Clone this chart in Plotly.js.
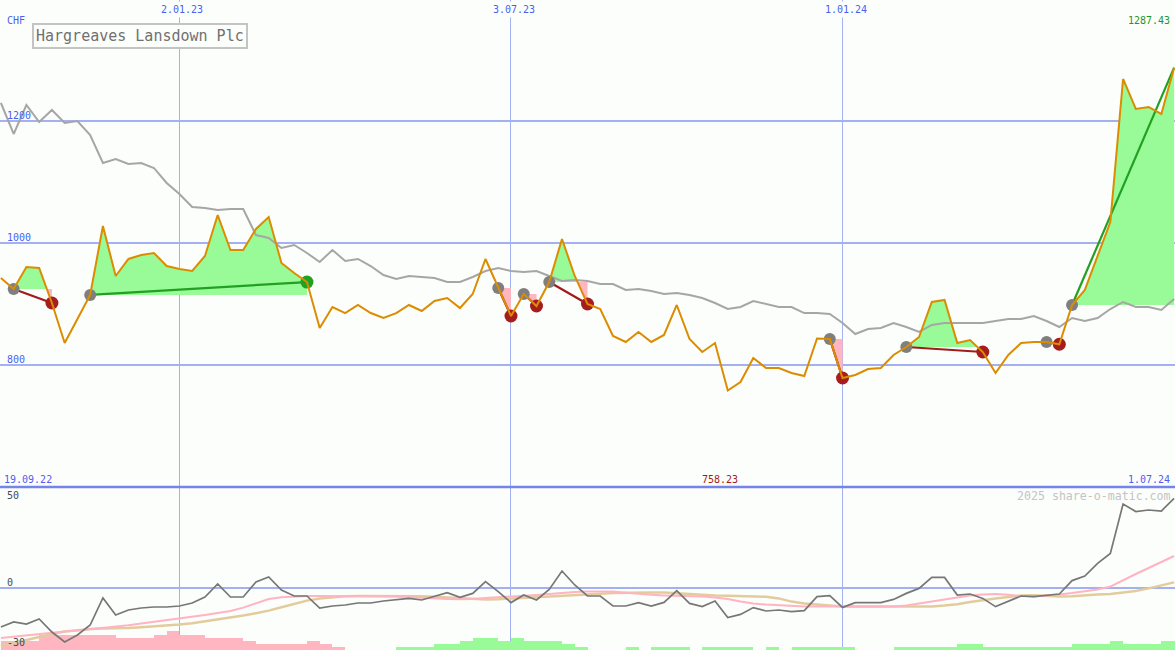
<!DOCTYPE html>
<html>
<head>
<meta charset="utf-8">
<script src="https://cdn.plot.ly/plotly-3.0.1.min.js"></script>
<style>
html,body{margin:0;padding:0;background:#fcfefb;}
#chart{width:1175px;height:650px;}
</style>
</head>
<body>
<div id="chart"></div>
<script>
// ---------- DATA ----------
const dates = [
'2022-09-26','2022-10-03','2022-10-10','2022-10-17','2022-10-24','2022-10-31','2022-11-07','2022-11-14','2022-11-21','2022-11-28',
'2022-12-05','2022-12-12','2022-12-19','2022-12-26','2023-01-02','2023-01-09','2023-01-16','2023-01-23','2023-01-30','2023-02-06',
'2023-02-13','2023-02-20','2023-02-27','2023-03-06','2023-03-13','2023-03-20','2023-03-27','2023-04-03','2023-04-10','2023-04-17',
'2023-04-24','2023-05-01','2023-05-08','2023-05-15','2023-05-22','2023-05-29','2023-06-05','2023-06-12','2023-06-19','2023-06-26',
'2023-07-03','2023-07-10','2023-07-17','2023-07-24','2023-07-31','2023-08-07','2023-08-14','2023-08-21','2023-08-28','2023-09-04',
'2023-09-11','2023-09-18','2023-09-25','2023-10-02','2023-10-09','2023-10-16','2023-10-23','2023-10-30','2023-11-06','2023-11-13',
'2023-11-20','2023-11-27','2023-12-04','2023-12-11','2023-12-18','2023-12-25','2024-01-01','2024-01-08','2024-01-15','2024-01-22',
'2024-01-29','2024-02-05','2024-02-12','2024-02-19','2024-02-26','2024-03-04','2024-03-11','2024-03-18','2024-03-25','2024-04-01',
'2024-04-08','2024-04-15','2024-04-22','2024-04-29','2024-05-06','2024-05-13','2024-05-20','2024-05-27','2024-06-03','2024-06-10',
'2024-06-17','2024-06-24','2024-07-01'];

const price = [
942.6,924.6,960.7,959,901.6,836,875.4,914.8,1027.9,945.9,
973.8,980.3,983.6,962.3,957.4,954.1,978.7,1045.9,988.5,988.5,
1023,1042.6,967.2,950.8,936,860.7,895.1,885.2,898.4,885.2,
877,885,898.4,888.5,904.9,909.8,893.4,916.4,973.8,926.2,
880.3,916.4,896.7,936,1006.6,945.9,900,891.8,847.5,837.7,
854.1,837.7,849.2,898.4,842.6,821.3,836,758.23,772.1,811.5,
795.1,795.1,786.9,782,843.5,842.6,778.7,783.6,793.4,795.1,
816.4,829.5,845.9,903.3,906.6,836,841,821.3,786.9,816.4,
836,837.7,837.7,834,898.4,923,980.3,1034.4,1268.9,1219.7,
1223,1211.5,1287.43];

const benchmark = [
1229.5,1178.7,1226.2,1198.4,1218,1196.7,1200,1177,1131.1,1137.7,
1129.5,1131.1,1123,1098.4,1080.3,1059,1057.4,1054.1,1055.7,1055.7,
1013.1,1008.2,991.8,996.7,983.6,968.9,988.5,970.5,973.8,962.3,
947.5,941,945.9,944.3,942.6,936.1,936.1,944.3,954.1,959,
954.1,952.5,954.1,945.9,937.7,939.3,937.7,932.8,932.8,923,
924.6,921.3,916.4,918,914.8,909.8,901.6,891.8,895.1,904.9,
900,895.1,895.1,885.2,885.2,883.6,868.9,850.8,859,860.7,
868.9,862.3,854.1,865.6,868.9,868.9,868.9,868.9,872.1,875.4,
875.4,880.3,872.1,862.3,877,872.1,877,891.8,903.3,895.1,
895.1,890.2,908.2];

const momentum = [
-19.5,-17,-18,-15.5,-22,-27,-23.5,-18.5,-5,-13.5,
-11,-10,-9.5,-9.5,-9,-7.5,-4.5,2,-4.5,-4.5,
3,5.5,-1,-4,-4,-10,-9,-8.5,-7.5,-7.5,
-6.5,-6,-5.2,-6,-4,-2.3,-4.7,-2.7,3.2,-1.8,
-7.3,-3.5,-6,-0.7,8.5,1.5,-4,-4,-9,-9,
-7.3,-9,-7.2,-1.3,-7.7,-9.3,-6.5,-14.8,-13.2,-9.8,
-11.5,-11,-11.8,-11.3,-4.3,-3.8,-9.7,-7.3,-7.3,-7.3,
-5.7,-2.7,-0.2,5.3,5.3,-3.5,-3,-5.2,-9.3,-6.5,
-4,-4.3,-3.5,-3,3.7,6,12.3,17.3,42,38.2,
39,38.5,44.8];

const momAvgFast = [
-25,-24.3,-23.5,-22.8,-22.2,-21.7,-21.2,-20.6,-20,-19.3,
-18.6,-17.8,-17,-16.2,-15.3,-14.5,-13.5,-12.5,-11.5,-9.8,
-7.5,-5.5,-4.6,-4.2,-4,-4,-4,-4,-4,-4,
-4,-4.2,-4.6,-5,-5.3,-5.5,-5.6,-5.5,-5,-4.7,
-4.4,-4,-3.5,-3,-2.4,-2,-1.8,-1.8,-1.8,-2.4,
-3,-3.4,-3.7,-3.9,-4,-4.3,-4.8,-5.5,-6.8,-7.8,
-8.3,-8.7,-9,-9.2,-9.3,-9.3,-9.3,-9.3,-9.3,-9.3,
-9.2,-8.8,-7.8,-6.5,-5.5,-4.6,-3.8,-3.2,-3,-3.4,
-4,-4.2,-3.8,-3.2,-2.5,-1.6,-0.7,0.7,4,7,
10,13,16];

const momAvgSlow = [
-29,-27.5,-25.8,-24.3,-23,-21.8,-21,-20.5,-20.3,-20.2,
-20,-19.6,-19.2,-18.8,-18.3,-17.6,-16.7,-15.8,-14.8,-13.8,
-12.6,-11.3,-9.6,-7.8,-6.3,-5.2,-4.5,-4.1,-4,-4,
-4,-4,-4,-4.1,-4.4,-4.8,-5.2,-5.5,-5.7,-5.6,
-5.3,-5,-4.7,-4.3,-4,-3.6,-3.3,-2.9,-2.5,-2.3,
-2.2,-2.2,-2.3,-2.7,-3.1,-3.5,-3.8,-3.9,-4.1,-4.2,
-4.4,-5.2,-6.8,-7.8,-8.3,-8.8,-9.2,-9.3,-9.3,-9.3,
-9.3,-9.3,-9.3,-9.2,-8.8,-8.1,-7,-6,-5.2,-4.5,
-3.8,-3.6,-4,-4.3,-4.1,-3.6,-3.2,-3,-2.3,-1.5,
-0.2,1.3,2.8];

const signalDown = [
3,3,3,5,5,5,5,5,5,4,
4,4,5,6.3,5,5,4,4,4,3,
2,2,2,2,3,2,1,0,0,0,
0,0,0,0,0,0,0,0,0,0,
0,0,0,0,0,0,0,0,0,0,
0,0,0,0,0,0,0,0,0,0,
0,0,0,0,0,0,0,0,0,0,
0,0,0,0,0,0,0,0,0,0,
0,0,0,0,0,0,0,0,0,0,
0,0,0];

const signalUp = [
0,0,0,0,0,0,0,0,0,0,
0,0,0,0,0,0,0,0,0,0,
0,0,0,0,0,0,0,0,0,0,
0,1,1,1,2,2,3,4,4,3,
4,3,3,3,2,1,0,0,0,1,
0,1,1,1,0,1,1,1,1,0,
1,0,1,1,1,1,1,0,0,0,
1,1,1,1,1,2,2,1,1,1,
1,1,1,1,2,2,2,3,2,2,
2,3,3];

const tradeEntry  = ['2022-10-03','2022-11-14','2023-06-26','2023-07-10','2023-07-24','2023-12-25','2024-02-05','2024-04-22','2024-05-06'];
const tradeExit   = ['2022-10-24','2023-03-13','2023-07-03','2023-07-17','2023-08-14','2024-01-01','2024-03-18','2024-04-29','2024-07-01'];
const tradeStatus = ['loss','win','loss','loss','loss','loss','loss','loss','open'];

const gridDates      = ['2023-01-02','2023-07-03','2024-01-01'];
const gridDateLabels = ['2.01.23','3.07.23','1.01.24'];
const priceTicks     = [800,1000,1200];
const momentumTicks  = [50,0,-30];
const firstDateLabel = '19.09.22';
const lastDateLabel  = '1.07.24';
const currency       = 'CHF';
const chartTitle     = 'Hargreaves Lansdown Plc';
const credit         = '2025 share-o-matic.com';

// ---------- BUILD ----------
const W = 1175, H = 650;
const BG = '#fcfefb';
const BLUE_GRID = '#a3b1f2';
const BLUE_TXT = '#4d5ef2';
const MONO = 'DejaVu Sans Mono, Liberation Mono, monospace';
const T = dates.map(d => Date.parse(d + 'T00:00:00Z'));
const idx = d => dates.indexOf(d);
const WEEK = 7 * 864e5;
const splitY = 487 / H;
const topDomain = [1 - splitY, 1];
const botDomain = [0, 1 - splitY];

function fillPolygon(e, x, above) {
  const L = price[e];
  const px = [], py = [];
  for (let i = e; i <= x; i++) {
    if (i > e) {
      const p0 = price[i - 1], p1 = price[i];
      if ((p0 - L) * (p1 - L) < 0) {
        const f = (L - p0) / (p1 - p0);
        px.push(T[i - 1] + f * (T[i] - T[i - 1]));
        py.push(L);
      }
    }
    px.push(T[i]);
    py.push(above ? Math.max(price[i], L) : Math.min(price[i], L));
  }
  px.push(T[x], T[e]);
  py.push(L, L);
  return {px, py};
}

const traces = [];
tradeEntry.forEach((d, k) => {
  const e = idx(d), x = idx(tradeExit[k]);
  [true, false].forEach(above => {
    const p = fillPolygon(e, x, above);
    traces.push({
      x: p.px, y: p.py, xaxis: 'x', yaxis: 'y', type: 'scatter', mode: 'lines',
      fill: 'toself', fillcolor: above ? '#98fb98' : '#ffb6c1',
      line: {width: 0, color: 'rgba(0,0,0,0)'}, hoverinfo: 'skip', showlegend: false
    });
  });
});
traces.push({x: T, y: benchmark, xaxis: 'x', yaxis: 'y', type: 'scatter', mode: 'lines',
  line: {color: '#a6a6a6', width: 2}, hoverinfo: 'skip', showlegend: false});
tradeEntry.forEach((d, k) => {
  const e = idx(d), x = idx(tradeExit[k]);
  traces.push({x: [T[e], T[x]], y: [price[e], price[x]], xaxis: 'x', yaxis: 'y', type: 'scatter', mode: 'lines',
    line: {color: tradeStatus[k] === 'loss' ? '#a01c1c' : '#22a022', width: 2.2}, hoverinfo: 'skip', showlegend: false});
});
const eI = tradeEntry.map(idx);
traces.push({x: eI.map(i => T[i]), y: eI.map(i => price[i]), xaxis: 'x', yaxis: 'y', type: 'scatter', mode: 'markers',
  marker: {color: '#7f7f7f', size: 12}, hoverinfo: 'skip', showlegend: false});
const lossI = tradeExit.map(idx).filter((_, k) => tradeStatus[k] === 'loss');
traces.push({x: lossI.map(i => T[i]), y: lossI.map(i => price[i]), xaxis: 'x', yaxis: 'y', type: 'scatter', mode: 'markers',
  marker: {color: '#a51d1d', size: 13}, hoverinfo: 'skip', showlegend: false});
const winI = tradeExit.map(idx).filter((_, k) => tradeStatus[k] === 'win');
traces.push({x: winI.map(i => T[i]), y: winI.map(i => price[i]), xaxis: 'x', yaxis: 'y', type: 'scatter', mode: 'markers',
  marker: {color: '#22a022', size: 13}, hoverinfo: 'skip', showlegend: false});
traces.push({x: T, y: price, xaxis: 'x', yaxis: 'y', type: 'scatter', mode: 'lines',
  line: {color: '#dc8c00', width: 2}, hoverinfo: 'skip', showlegend: false});

traces.push({x: T, y: signalDown, xaxis: 'x2', yaxis: 'y2', type: 'bar', width: WEEK, offset: 0,
  marker: {color: '#ffb6c1', line: {width: 0}}, hoverinfo: 'skip', showlegend: false});
traces.push({x: T, y: signalUp, xaxis: 'x2', yaxis: 'y2', type: 'bar', width: WEEK, offset: 0,
  marker: {color: '#98fb98', line: {width: 0}}, hoverinfo: 'skip', showlegend: false});
traces.push({x: T, y: momAvgSlow, xaxis: 'x2', yaxis: 'y3', type: 'scatter', mode: 'lines',
  line: {color: '#e2cc9c', width: 2.5}, hoverinfo: 'skip', showlegend: false});
traces.push({x: T, y: momAvgFast, xaxis: 'x2', yaxis: 'y3', type: 'scatter', mode: 'lines',
  line: {color: '#ffb3c3', width: 2}, hoverinfo: 'skip', showlegend: false});
traces.push({x: T, y: momentum, xaxis: 'x2', yaxis: 'y3', type: 'scatter', mode: 'lines',
  line: {color: '#777777', width: 1.7}, hoverinfo: 'skip', showlegend: false});

const xr = [Date.UTC(2022, 8, 25, 12), Date.UTC(2024, 6, 1, 12)];
const gridT = gridDates.map(d => Date.parse(d + 'T00:00:00Z'));
const xCommon = {type: 'date', range: xr, tickvals: gridT, showgrid: true, gridcolor: BLUE_GRID, gridwidth: 1,
  showticklabels: false, zeroline: false, showline: false, ticks: ''};

const ann = [];
const fnt = (size, color) => ({family: MONO, size: size, color: color});
ann.push({text: currency, xref: 'paper', yref: 'paper', x: 5 / W, y: 1 - 21 / H, xanchor: 'left', yanchor: 'middle',
  showarrow: false, font: fnt(10, BLUE_TXT)});
priceTicks.forEach(v => ann.push({text: String(v), xref: 'paper', yref: 'y', x: 5 / W, y: v, xanchor: 'left',
  yanchor: 'middle', yshift: 6, showarrow: false, font: fnt(10, BLUE_TXT)}));
gridT.forEach((t, k) => ann.push({text: gridDateLabels[k], xref: 'x', yref: 'paper', x: t, y: 1, xanchor: 'center',
  yanchor: 'top', xshift: 3, yshift: -1, showarrow: false, bgcolor: BG, borderpad: 2, font: fnt(10, BLUE_TXT)}));
ann.push({text: price[price.length - 1].toFixed(2), xref: 'paper', yref: 'paper', x: 1, y: 1 - 21 / H, xanchor: 'right',
  xshift: -3, yanchor: 'middle', showarrow: false, font: fnt(10, '#22962a')});
ann.push({text: chartTitle, xref: 'paper', yref: 'paper', x: 32 / W, y: 1 - 36 / H, xanchor: 'left', yanchor: 'middle',
  showarrow: false, bordercolor: '#c4c4c4', borderwidth: 2, borderpad: 2, bgcolor: BG, font: fnt(15, '#707070')});
const minV = Math.min(...price);
const minI = price.indexOf(minV);
ann.push({text: firstDateLabel, xref: 'paper', yref: 'paper', x: 2 / W, y: 1 - 479 / H, xanchor: 'left', yanchor: 'middle',
  showarrow: false, font: fnt(10, BLUE_TXT)});
ann.push({text: minV.toFixed(2), xref: 'x', yref: 'paper', x: T[minI], y: 1 - 479 / H, xanchor: 'center', xshift: -8,
  yanchor: 'middle', showarrow: false, font: fnt(10, '#a01c1c')});
ann.push({text: lastDateLabel, xref: 'paper', yref: 'paper', x: 1, y: 1 - 479 / H, xanchor: 'right', xshift: -3,
  yanchor: 'middle', showarrow: false, font: fnt(10, BLUE_TXT)});
ann.push({text: credit, xref: 'paper', yref: 'paper', x: 1, y: 1 - 496 / H, xanchor: 'right', xshift: -2,
  yanchor: 'middle', showarrow: false, font: fnt(11.6, '#c4c4c4')});
momentumTicks.forEach(v => ann.push({text: String(v), xref: 'paper', yref: 'y3', x: 5 / W, y: v, xanchor: 'left',
  yanchor: v === momentumTicks[0] ? 'top' : 'middle', yshift: v === momentumTicks[0] ? 0 : 6,
  showarrow: false, font: fnt(10, '#4a4a4a')}));

const layout = {
  width: W, height: H, margin: {l: 0, r: 0, t: 0, b: 0, pad: 0},
  paper_bgcolor: BG, plot_bgcolor: BG, showlegend: false, bargap: 0, barmode: 'overlay',
  xaxis: Object.assign({}, xCommon, {domain: [0, 1], anchor: 'y'}),
  xaxis2: Object.assign({}, xCommon, {domain: [0, 1], anchor: 'y2', matches: 'x'}),
  yaxis: {domain: topDomain, range: [600, 1398.36], tickvals: priceTicks, showgrid: true, gridcolor: BLUE_GRID,
    gridwidth: 2, showticklabels: false, zeroline: false, showline: false, ticks: '', anchor: 'x'},
  yaxis2: {domain: botDomain, range: [0, 54.33], showgrid: false, showticklabels: false, zeroline: false,
    showline: false, ticks: '', anchor: 'x2'},
  yaxis3: {domain: botDomain, range: [-31, 50.5], overlaying: 'y2', anchor: 'x2', tickvals: [0], showgrid: true,
    gridcolor: BLUE_GRID, gridwidth: 2, showticklabels: false, zeroline: false, showline: false, ticks: ''},
  shapes: [
    {type: 'line', xref: 'paper', yref: 'paper', x0: 0, x1: 1, y0: 1 - splitY, y1: 1 - splitY,
      line: {color: '#7484ea', width: 2.5}, layer: 'above'}
  ],
  annotations: ann
};

Plotly.newPlot('chart', traces, layout, {staticPlot: true, displayModeBar: false});
</script>
</body>
</html>
